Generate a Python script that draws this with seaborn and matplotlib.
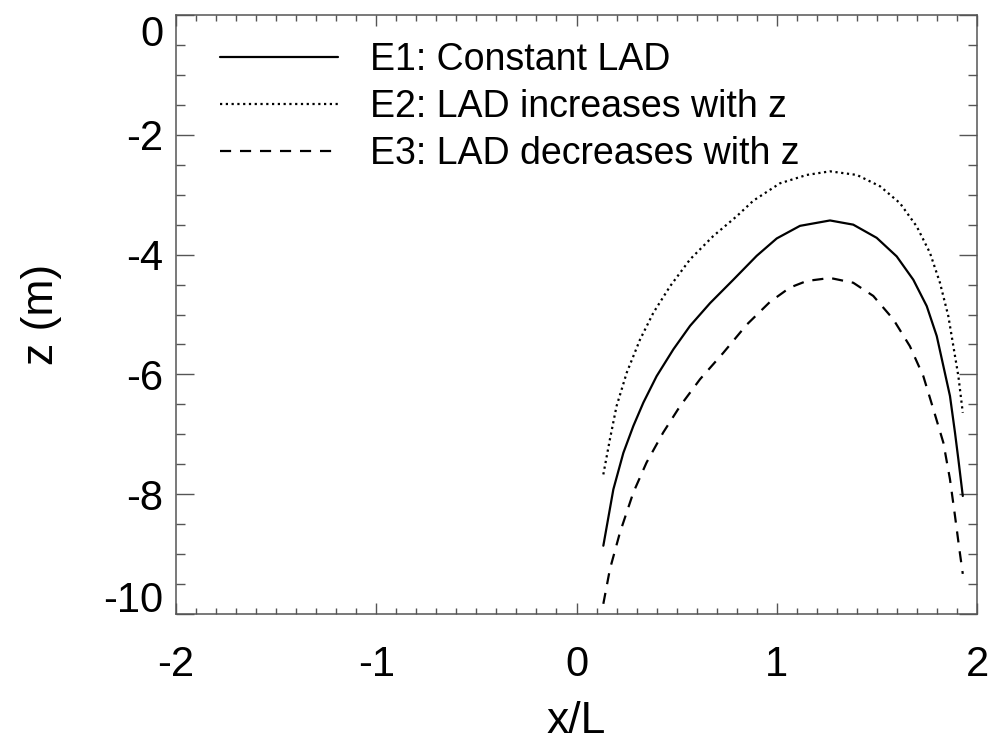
import numpy as np
import pandas as pd
import matplotlib
matplotlib.use("Agg")
import matplotlib.pyplot as plt
import matplotlib.transforms as mtransforms
from matplotlib.ticker import MultipleLocator
import seaborn as sns

# ---- data ----
x_e1 = [0.134, 0.184, 0.234, 0.284, 0.334, 0.400, 0.484, 0.567, 0.667, 0.783, 0.900, 1.000, 1.116,
        1.266, 1.382, 1.499, 1.599, 1.682, 1.749, 1.799, 1.832, 1.865, 1.890, 1.907, 1.929]
z_e1 = [-8.86, -7.92, -7.31, -6.86, -6.47, -6.03, -5.58, -5.19, -4.81, -4.42, -4.02, -3.73, -3.52,
        -3.43, -3.50, -3.72, -4.03, -4.42, -4.86, -5.36, -5.86, -6.36, -6.97, -7.42, -8.03]

x_e2 = [0.134, 0.167, 0.200, 0.251, 0.317, 0.384, 0.467, 0.567, 0.683, 0.800, 0.883, 1.016, 1.150,
        1.266, 1.400, 1.516, 1.615, 1.699, 1.765, 1.815, 1.857, 1.882, 1.907, 1.929]
z_e2 = [-7.67, -7.08, -6.53, -5.97, -5.42, -4.97, -4.53, -4.08, -3.69, -3.36, -3.10, -2.81, -2.67,
        -2.61, -2.67, -2.86, -3.14, -3.53, -3.97, -4.47, -5.03, -5.53, -6.03, -6.64]

x_e3 = [0.134, 0.167, 0.217, 0.284, 0.350, 0.433, 0.517, 0.617, 0.733, 0.850, 0.966, 1.066, 1.150,
        1.266, 1.382, 1.482, 1.582, 1.665, 1.732, 1.782, 1.832, 1.865, 1.890, 1.912, 1.929]
z_e3 = [-9.83, -9.25, -8.64, -7.97, -7.47, -6.97, -6.53, -6.08, -5.64, -5.17, -4.79, -4.55, -4.44,
        -4.39, -4.47, -4.69, -5.08, -5.53, -6.03, -6.58, -7.14, -7.75, -8.36, -8.92, -9.33]

series_labels = ["E1: Constant LAD", "E2: LAD increases with z", "E3: LAD decreases with z"]
xticks = [-2, -1, 0, 1, 2]
xtick_labels = ["-2", "-1", "0", "1", "2"]
yticks = [0, -2, -4, -6, -8, -10]
ytick_labels = ["0", "-2", "-4", "-6", "-8", "-10"]

sns.set_style("ticks")
plt.rcParams["font.family"] = ["Liberation Sans", "DejaVu Sans"]
plt.rcParams["axes.unicode_minus"] = False
plt.rcParams["text.color"] = "black"
plt.rcParams["axes.labelcolor"] = "black"

fig = plt.figure(figsize=(9.93, 7.42), dpi=100)
ax = fig.add_axes([176/993, 1 - 614/742, (977-176)/993, (614-15)/742])

styles = ["-", (0, (1, 1.6)), (0, (5, 4))]
for xs, zs, lab, ls in zip([x_e1, x_e2, x_e3], [z_e1, z_e2, z_e3], series_labels, styles):
    df = pd.DataFrame({"x": xs, "z": zs})
    sns.lineplot(data=df, x="x", y="z", ax=ax, sort=False, estimator=None,
                 color="black", linestyle=ls, linewidth=1.6, label=lab)

ax.set_xlim(-2, 2)
ax.set_ylim(-10, 0)
ax.set_xticks(xticks, labels=xtick_labels)
ax.set_yticks(yticks, labels=ytick_labels)
ax.xaxis.set_minor_locator(MultipleLocator(0.1))
ax.yaxis.set_minor_locator(MultipleLocator(0.5))

axis_col = "#555555"
for sp in ax.spines.values():
    sp.set_visible(True)
    sp.set_color(axis_col)
    sp.set_linewidth(1.1)

ax.tick_params(axis="both", which="both", direction="in", top=True, right=True,
               color=axis_col, width=1.0, labelsize=30, labelcolor="black")
ax.tick_params(axis="x", which="major", length=8, pad=22)
ax.tick_params(axis="x", which="minor", length=4)
ax.tick_params(axis="y", which="major", length=13, pad=9)
ax.tick_params(axis="y", which="minor", length=6.5)

ax.set_xlabel("x/L", fontsize=32, labelpad=12)
ax.set_ylabel("z (m)", fontsize=32, labelpad=30)

leg = ax.legend(loc="upper left", bbox_to_anchor=(44/801, 1 - 27/599), frameon=False,
                fontsize=27, handlelength=3.15, handletextpad=0.85, labelspacing=0.3,
                borderpad=0, borderaxespad=0)

# IDL-style: end labels nudged inside the axis range
for lab in ax.get_yticklabels():
    if lab.get_text() == "0":
        lab.set_transform(lab.get_transform() + mtransforms.ScaledTranslation(0, -16/100, fig.dpi_scale_trans))
    elif lab.get_text() == "-10":
        lab.set_transform(lab.get_transform() + mtransforms.ScaledTranslation(0, 18/100, fig.dpi_scale_trans))

fig.savefig("out.png", dpi=100)
